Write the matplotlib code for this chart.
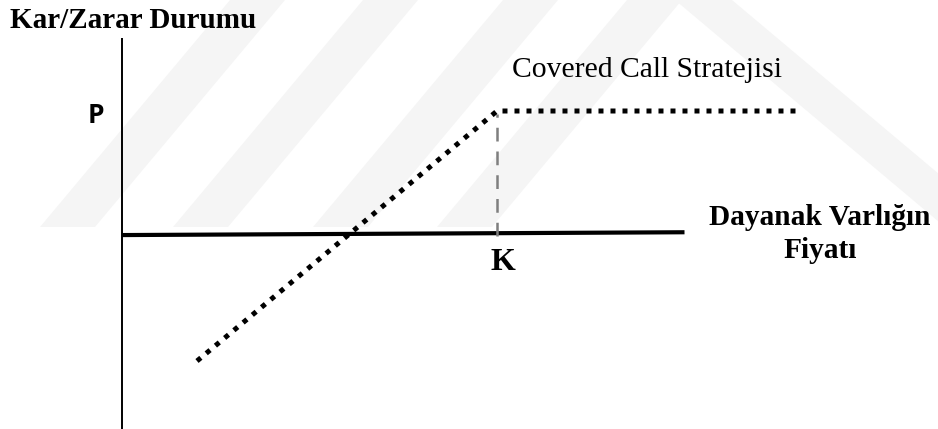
import matplotlib
matplotlib.use("Agg")
import matplotlib.pyplot as plt
from matplotlib.patches import Polygon

# ---- schematic data (price units, profit units) ----
price = [2, 10, 18]          # underlying price points of the payoff line
profit = [-4, 4, 4]          # covered call profit/loss
strike = 10                  # K
premium_level = 4            # P
xaxis_end = 15
yaxis_top = 6.35
yaxis_bottom = -6.2

title_text = "Kar/Zarar Durumu"
strategy_text = "Covered Call Stratejisi"
xlabel_lines = ["Dayanak Varlığın", "Fiyatı"]
k_label = "K"
p_label = "P"

W, H = 938, 429
fig = plt.figure(figsize=(W / 100, H / 100), dpi=100)

# ---- faint background watermark (figure pixel space) ----
bg = fig.add_axes([0, 0, 1, 1])
bg.set_xlim(0, W)
bg.set_ylim(H, 0)
bg.axis("off")
wm = "#f5f5f5"
band_bottom = [40, 173, 313, 437]
band_w = 55
for b in band_bottom:
    bg.add_patch(Polygon([(b, 227), (b + band_w, 227), (b + band_w + 190, 0), (b + 190, 0)],
                         closed=True, facecolor=wm, edgecolor="none", zorder=0))
bg.add_patch(Polygon([(675, 0), (732, 0), (1002, 227), (945, 227)],
                     closed=True, facecolor=wm, edgecolor="none", zorder=0))

# ---- main axes in data units ----
ax = fig.add_axes([0, 0, 1, 1])
ax.patch.set_alpha(0)
sx, sy = 37.5, 31.25
x0, y0 = 122, 236
ax.set_xlim(-x0 / sx, (W - x0) / sx)
ax.set_ylim(-(H - y0) / sy, y0 / sy)
ax.axis("off")

# axes lines
ax.plot([0, 0], [yaxis_bottom, yaxis_top], color="black", lw=1.4, solid_capstyle="butt")
ax.plot([0, xaxis_end], [0.03, 0.12], color="black", lw=3.0, solid_capstyle="butt")

# dashed strike line
ax.plot([strike, strike], [0, premium_level - 0.1], color="#7f7f7f", lw=1.8,
        linestyle=(0, (5.5, 4.0)))

# payoff line (dotted)
ax.plot(price, profit, color="black", lw=3.6, linestyle=(0, (1, 1.4)),
        dash_capstyle="butt", solid_joinstyle="miter")

serif = "Liberation Serif"
def px(xp):
    return (xp - x0) / sx
def py(yp):
    return (y0 - yp) / sy

ax.text(px(10), py(28), title_text, family=serif, weight="bold", fontsize=21,
        ha="left", va="baseline")
ax.text(px(647), py(77), strategy_text, family=serif, fontsize=21.3,
        ha="center", va="baseline")
ax.text(px(820), py(225), xlabel_lines[0], family=serif, weight="bold", fontsize=21.2,
        ha="center", va="baseline")
ax.text(px(820), py(258), xlabel_lines[1], family=serif, weight="bold", fontsize=21.2,
        ha="center", va="baseline")
ax.text(px(503), py(270), k_label, family=serif, weight="bold", fontsize=23,
        ha="center", va="baseline")
ax.text(px(96), py(123), p_label, family="Open Sans", weight="bold", fontsize=19,
        ha="center", va="baseline")

fig.savefig("out.png", dpi=100)
